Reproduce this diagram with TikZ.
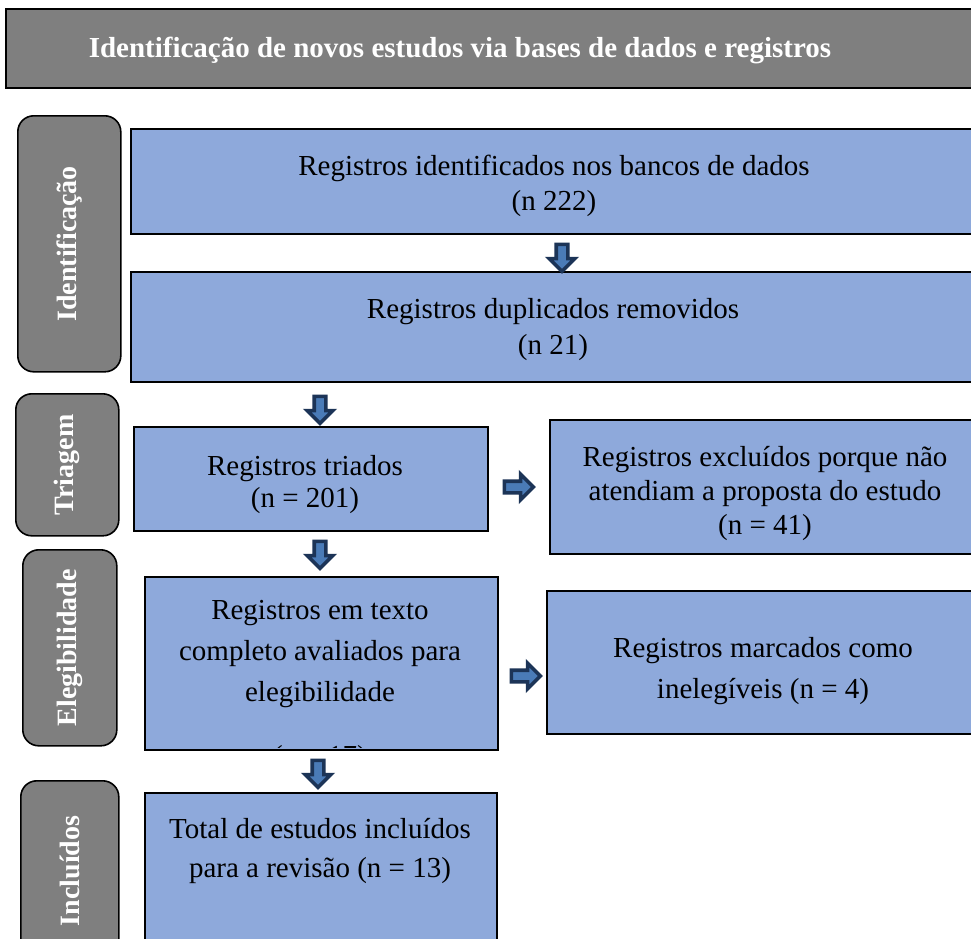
\documentclass[tikz,border=0pt]{standalone}
\usepackage{fontspec}
\setmainfont{Liberation Serif}
\usetikzlibrary{shapes.arrows}
\definecolor{boxblue}{HTML}{8EA9DB}
\definecolor{labgray}{HTML}{7F7F7F}
\definecolor{arrdark}{HTML}{1C3457}
\definecolor{arrlight}{HTML}{4A7BB7}
\begin{document}
\begin{tikzpicture}[x=1pt,y=-1pt,
  bluebox/.style={draw=black,line width=1.6pt,fill=boxblue,anchor=north west,inner sep=0pt},
  hdrbox/.style={draw=black,line width=2pt,fill=labgray,anchor=north west,inner sep=0pt},
  sidebox/.style={draw=black,line width=1.6pt,fill=labgray,rounded corners=16pt,anchor=north west,inner sep=0pt},
  sidetxt/.style={text=white,font=\fontsize{28}{32}\selectfont\bfseries,rotate=90,inner sep=0pt},
  bodytxt/.style={align=center,inner sep=0pt},
  downarr/.style={single arrow,draw=arrdark,fill=arrlight,line width=3.6pt,inner sep=4pt,
    single arrow head extend=7pt,minimum height=27pt,shape border rotate=270},
  rightarr/.style={single arrow,draw=arrdark,fill=arrlight,line width=3.6pt,inner sep=4pt,
    single arrow head extend=7pt,minimum height=29pt}]
\clip (0,0) rectangle (971,938);
\fill[white] (0,0) rectangle (971,938);

% header
\node[hdrbox,minimum width=985pt,minimum height=79pt] (hdr) at (5,8) {};
\node[text=white,font=\fontsize{29}{32}\selectfont\bfseries,inner sep=0pt] (hdrtxt) at (460,50)
  {Identificação de novos estudos via bases de dados e registros};

% side labels
\node[sidebox,minimum width=103pt,minimum height=256pt] (s1) at (17,115) {};
\node[sidetxt] (s1t) at (s1.center) {Identificação};
\node[sidebox,minimum width=103pt,minimum height=142pt] (s2) at (15,393) {};
\node[sidetxt] (s2t) at (s2.center) {Triagem};
\node[sidebox,minimum width=94pt,minimum height=196pt] (s3) at (22,549) {};
\node[sidetxt] (s3t) at (s3.center) {Elegibilidade};
\node[sidebox,minimum width=98pt,minimum height=180pt] (s4) at (20,780) {};
\node[sidetxt] (s4t) at (s4.center) {Incluídos};

% boxes
\node[bluebox,minimum width=850pt,minimum height=105pt] (b1) at (130,128) {};
\node[bodytxt,font=\fontsize{29}{35}\selectfont] (t1) at (554,186)
  {Registros identificados nos bancos de dados\\(n 222)};
\node[bluebox,minimum width=850pt,minimum height=110pt] (b2) at (130,271) {};
\node[bodytxt,font=\fontsize{29}{36}\selectfont] (t2) at (553,330)
  {Registros duplicados removidos\\(n 21)};
\node[bluebox,minimum width=354pt,minimum height=104pt] (b3) at (133,426) {};
\node[bodytxt,font=\fontsize{29}{32}\selectfont] (t3) at (305,485)
  {Registros triados\\(n = 201)};
\node[bluebox,minimum width=432pt,minimum height=134pt] (b4) at (549,419) {};
\node[bodytxt,font=\fontsize{29}{34}\selectfont] (t4) at (765,493)
  {Registros excluídos porque não\\atendiam a proposta do estudo\\(n = 41)};
\node[bluebox,minimum width=353pt,minimum height=173pt] (b5) at (144,576) {};
\node[bodytxt,font=\fontsize{29}{41}\selectfont] (t5) at (320,654)
  {Registros em texto\\completo avaliados para\\elegibilidade};
\begin{scope}
  \clip (145,700) rectangle (496,747.5);
  \node[bodytxt,font=\fontsize{29}{34}\selectfont] (t5b) at (320,759) {(n = 17)};
\end{scope}
\node[bluebox,minimum width=435pt,minimum height=143pt] (b6) at (546,590) {};
\node[bodytxt,font=\fontsize{29}{41}\selectfont] (t6) at (763,671)
  {Registros marcados como\\inelegíveis (n = 4)};
\node[bluebox,minimum width=352pt,minimum height=170pt] (b7) at (144,792) {};
\node[bodytxt,font=\fontsize{29}{39}\selectfont] (t7) at (320,851)
  {Total de estudos incluídos\\para a revisão (n = 13)};

% arrows
\node[downarr] (a1) at (562,255) {};
\node[downarr] (a2) at (320,407) {};
\node[rightarr] (a3) at (516,487) {};
\node[downarr] (a4) at (320,552) {};
\node[rightarr] (a5) at (523,676) {};
\node[downarr] (a6) at (318,771) {};
\end{tikzpicture}
\end{document}
